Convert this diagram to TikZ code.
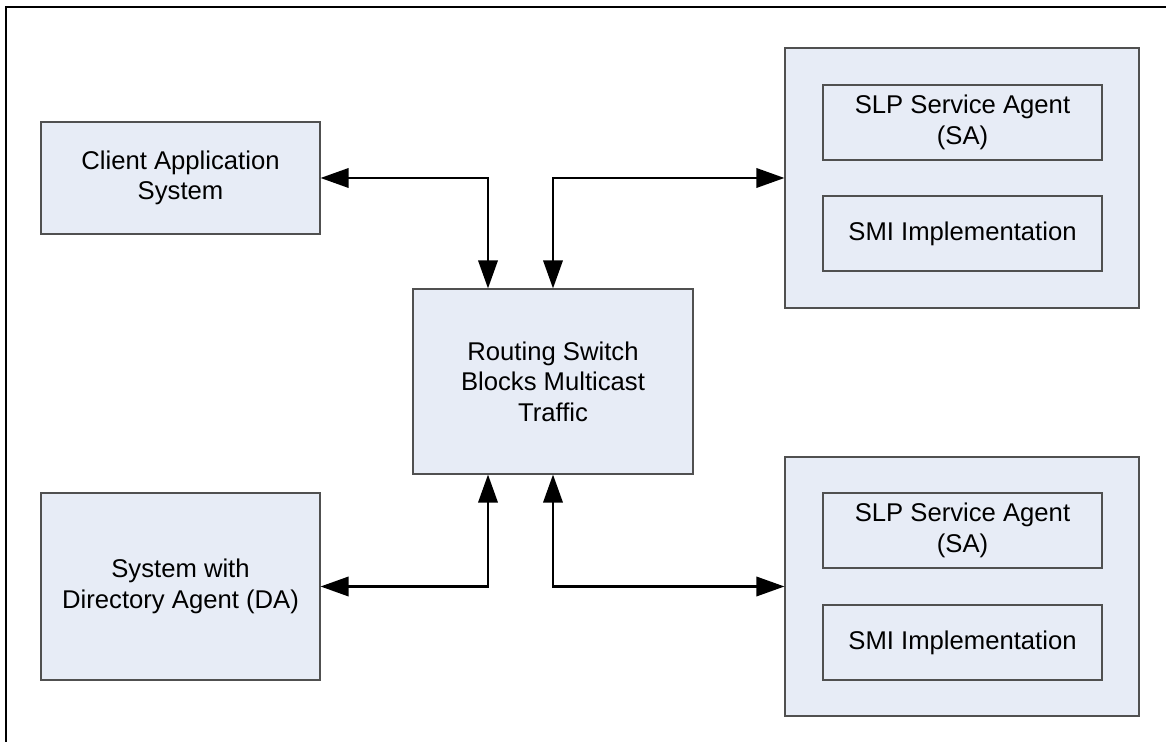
\documentclass[tikz,border=0pt]{standalone}
\usepackage{fontspec}
\setmainfont{Liberation Sans}
\usepackage{tikz}
\usepackage{xcolor}
\usetikzlibrary{shapes,arrows.meta,positioning,calc}
\definecolor{boxfill}{RGB}{231,236,246}
\definecolor{boxline}{RGB}{80,80,80}

\begin{document}
\begin{tikzpicture}[
    font=\fontsize{14.6}{17.4}\selectfont,
    block/.style={draw=boxline,line width=0.6pt,fill=boxfill,align=center,inner sep=0pt},
    inner/.style={draw=boxline,line width=0.6pt,align=center,inner sep=0pt,
        minimum width=5.58cm,minimum height=1.5cm},
    link/.style={line width=1.5pt,{Triangle[length=16pt,width=11pt]}-{Triangle[length=16pt,width=11pt]}}
]
    \useasboundingbox (0,0) rectangle (23.32,14.84);
    % Frame
    \draw[line width=1.2pt] (0.12,0) -- (0.12,14.70) -- (23.32,14.70);

    % Left systems and switch
    \node[block,minimum width=5.58cm,minimum height=2.24cm] (client) at (3.61,11.28) {Client Application\\System};
    \node[block,minimum width=5.58cm,minimum height=3.74cm] (dirsys) at (3.61,3.11) {System with\\Directory Agent (DA)};
    \node[block,minimum width=5.60cm,minimum height=3.70cm] (router) at (11.06,7.21) {Routing Switch\\Blocks Multicast\\Traffic};

    % Service agent systems
    \node[block,minimum width=7.08cm,minimum height=5.20cm] (sabox1) at (19.24,11.28) {};
    \node[inner] (slp1) at (19.25,12.39) {SLP Service Agent\\(SA)};
    \node[inner] (smi1) at (19.25,10.17) {SMI Implementation};
    \node[block,minimum width=7.08cm,minimum height=5.18cm] (sabox2) at (19.24,3.11) {};
    \node[inner] (slp2) at (19.25,4.23) {SLP Service Agent\\(SA)};
    \node[inner] (smi2) at (19.25,1.99) {SMI Implementation};

    % Links
    \draw[link] (client.east) -| ([xshift=-1.3cm]router.north);
    \draw[link] (router.north) |- (sabox1.west);
    \draw[link] (dirsys.east) -| ([xshift=-1.3cm]router.south);
    \draw[link] (router.south) |- (sabox2.west);
\end{tikzpicture}
\end{document}
